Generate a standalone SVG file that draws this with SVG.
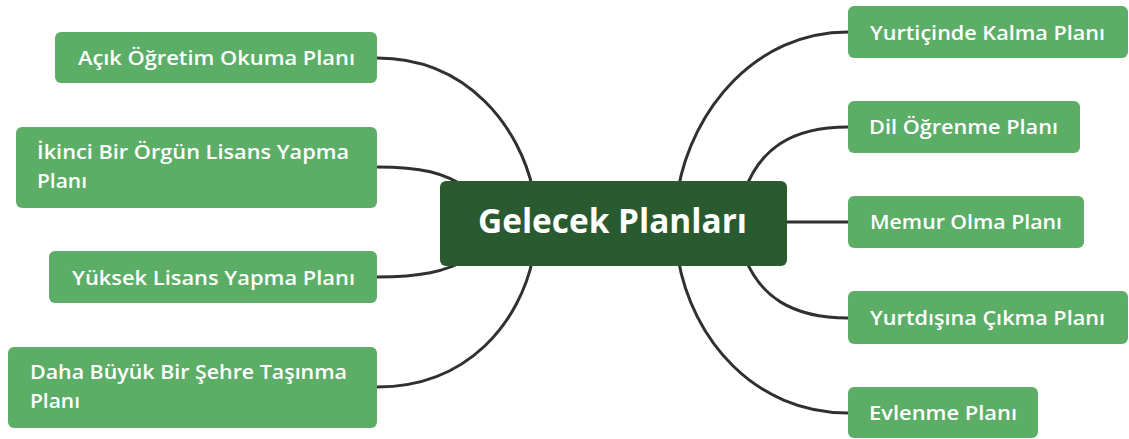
<svg xmlns="http://www.w3.org/2000/svg" width="1129" height="439" viewBox="0 0 1129 439">
<style>
.edge{fill:none;stroke:#303030;stroke-width:3;stroke-linecap:round}
.node{fill:#5cae67}
.root{fill:#2a5a2f}
.lbl{font-family:"Open Sans","Noto Sans","Liberation Sans",sans-serif;font-weight:600;font-size:20px;fill:#ffffff}
.title{font-family:"Open Sans","Noto Sans","Liberation Sans",sans-serif;font-weight:700;font-size:34px;fill:#ffffff}
</style>
<rect width="1129" height="439" fill="#ffffff"/>
<g id="connectors">
<path class="edge" d="M377,58 C470,58 520,130 533,190"/>
<path class="edge" d="M377,167 C420,167 445,172 470,190"/>
<path class="edge" d="M377,277 C420,277 445,272 470,258"/>
<path class="edge" d="M377,387 C470,387 520,320 533,258"/>
<path class="edge" d="M848,32 C755,32 692,110 678,190"/>
<path class="edge" d="M848,127 C790,127 760,150 745,190"/>
<path class="edge" d="M780,222 L848,222"/>
<path class="edge" d="M745,258 C760,295 790,318 848,318"/>
<path class="edge" d="M678,258 C692,340 755,413 848,413"/>
</g>
<g id="root">
<rect class="root" x="440" y="181" width="347" height="85" rx="6"/>
<text class="title" x="478" y="233" textLength="269" lengthAdjust="spacingAndGlyphs">Gelecek Planları</text>
</g>
<g id="n-acik">
<rect class="node" x="55" y="32" width="322" height="51" rx="6"/>
<text class="lbl" x="78" y="65" textLength="277" lengthAdjust="spacingAndGlyphs">Açık Öğretim Okuma Planı</text>
</g>
<g id="n-ikinci">
<rect class="node" x="16" y="127" width="361" height="81" rx="6"/>
<text class="lbl" x="37" y="159" textLength="312" lengthAdjust="spacingAndGlyphs">İkinci Bir Örgün Lisans Yapma</text>
<text class="lbl" x="37" y="188" textLength="50" lengthAdjust="spacingAndGlyphs">Planı</text>
</g>
<g id="n-yuksek">
<rect class="node" x="49" y="251" width="328" height="52" rx="6"/>
<text class="lbl" x="72" y="285" textLength="283" lengthAdjust="spacingAndGlyphs">Yüksek Lisans Yapma Planı</text>
</g>
<g id="n-daha">
<rect class="node" x="8" y="347" width="369" height="81" rx="6"/>
<text class="lbl" x="30" y="379" textLength="317" lengthAdjust="spacingAndGlyphs">Daha Büyük Bir Şehre Taşınma</text>
<text class="lbl" x="30" y="408" textLength="50" lengthAdjust="spacingAndGlyphs">Planı</text>
</g>
<g id="n-yurtici">
<rect class="node" x="848" y="6" width="280" height="52" rx="6"/>
<text class="lbl" x="870" y="40" textLength="235" lengthAdjust="spacingAndGlyphs">Yurtiçinde Kalma Planı</text>
</g>
<g id="n-dil">
<rect class="node" x="848" y="101" width="232" height="52" rx="6"/>
<text class="lbl" x="869" y="134" textLength="189" lengthAdjust="spacingAndGlyphs">Dil Öğrenme Planı</text>
</g>
<g id="n-memur">
<rect class="node" x="848" y="196" width="236" height="52" rx="6"/>
<text class="lbl" x="870" y="229" textLength="192" lengthAdjust="spacingAndGlyphs">Memur Olma Planı</text>
</g>
<g id="n-yurtdisi">
<rect class="node" x="848" y="291" width="280" height="53" rx="6"/>
<text class="lbl" x="870" y="325" textLength="235" lengthAdjust="spacingAndGlyphs">Yurtdışına Çıkma Planı</text>
</g>
<g id="n-evlenme">
<rect class="node" x="848" y="387" width="190" height="51" rx="6"/>
<text class="lbl" x="869" y="420" textLength="148" lengthAdjust="spacingAndGlyphs">Evlenme Planı</text>
</g>
</svg>
